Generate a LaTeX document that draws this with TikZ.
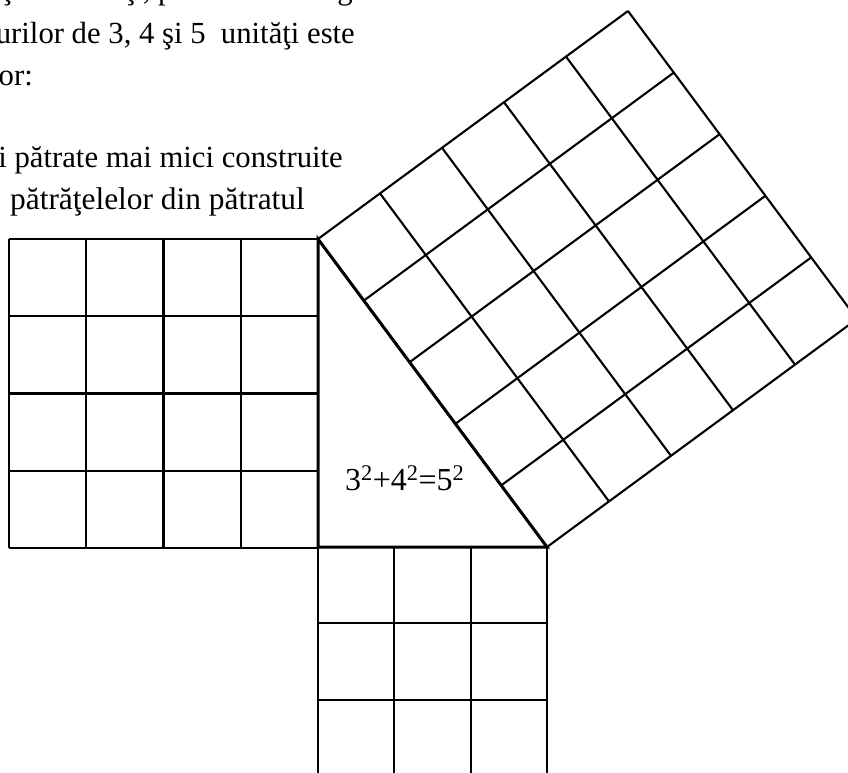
\documentclass[tikz,border=0pt]{standalone}
\usepackage{fontspec}
\setmainfont{Liberation Serif}
\usetikzlibrary{calc}
\begin{document}
\begin{tikzpicture}[x=1pt,y=-1pt,
  gridline/.style={line width=2.1pt, black},
  legline/.style={line width=3pt, black, line join=miter},
  txt/.style={font=\fontsize{30.7}{36}\selectfont, inner sep=0pt},
  eq/.style={font=\fontsize{32}{36}\selectfont, inner sep=0pt, anchor=base west}]
\useasboundingbox (0,0) rectangle (848,772);
\clip (0,0) rectangle (848,772);
\coordinate (A) at (318,239);
\coordinate (B) at (318,547);
\coordinate (C) at (547,547);
\coordinate (D) at ($(A)+(310,-228)$);
\coordinate (E) at ($(C)+(310,-228)$);
% left square 4x4
\foreach \i in {0,...,4} {
  \draw[gridline] ({9+\i*77.25},239) -- ({9+\i*77.25},548);
  \draw[gridline] (9,{239+\i*77.25}) -- (318,{239+\i*77.25});
}
% bottom square 3x3
\foreach \i in {0,...,3} {
  \draw[gridline] ({318+\i*76.33},547) -- ({318+\i*76.33},776);
  \draw[gridline] (318,{547+\i*76.33}) -- (547,{547+\i*76.33});
}
% square on hypotenuse 5x5
\foreach \i in {0,...,5} {
  \draw[gridline] ($(A)!\i/5!(C)$) -- ($(D)!\i/5!(E)$);
  \draw[gridline] ($(A)!\i/5!(D)$) -- ($(C)!\i/5!(E)$);
}
% triangle
\draw[legline] (A) -- (B) -- (C) -- cycle;
% equation
\node[eq] (eqn) at (345,490) {3\textsuperscript{2}+4\textsuperscript{2}=5\textsuperscript{2}};
% text lines (cut at the left edge)
\node[txt, anchor=base west] (t0) at (2,-0.5) {şi observaţi, pe această imagine};
\node[txt, anchor=base east] (t1) at (355,43) {laturilor de 3, 4 şi 5 \ unităţi este};
\node[txt, anchor=base east] (t2) at (33,85) {catetelor:};
\node[txt, anchor=base east] (t3) at (343,167) {şi pătrate mai mici construite};
\node[txt, anchor=base east, font=\fontsize{31.4}{36}\selectfont] (t4) at (305,209) {numărul\hspace{0.5em} pătrăţelelor din pătratul};
\end{tikzpicture}
\end{document}
